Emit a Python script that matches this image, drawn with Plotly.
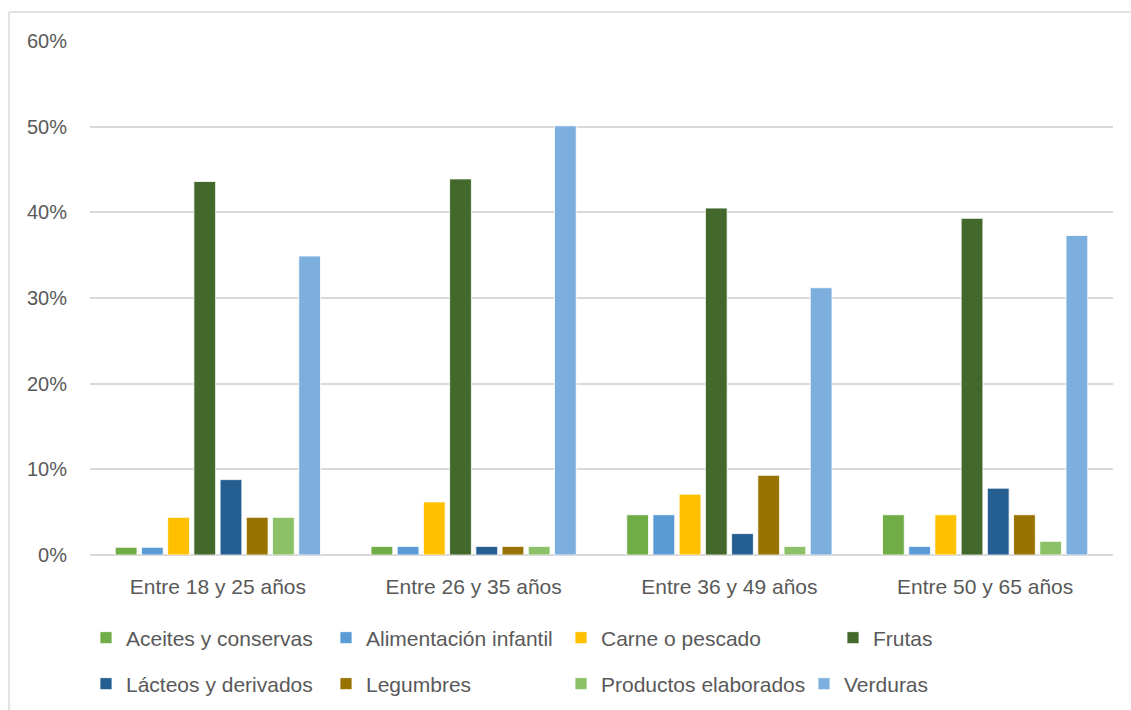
import plotly.graph_objects as go

# Age groups (x categories)
age_groups = ["Entre 18 y 25 años", "Entre 26 y 35 años", "Entre 36 y 49 años", "Entre 50 y 65 años"]

# Share of each product category per age group (fractions)
aceites = [0.009, 0.010, 0.047, 0.047]
alimentacion = [0.009, 0.010, 0.047, 0.010]
carne = [0.044, 0.062, 0.071, 0.047]
frutas = [0.436, 0.439, 0.405, 0.393]
lacteos = [0.088, 0.010, 0.025, 0.078]
legumbres = [0.044, 0.010, 0.093, 0.047]
elaborados = [0.044, 0.010, 0.010, 0.016]
verduras = [0.349, 0.501, 0.312, 0.373]

series_names = ["Aceites y conservas", "Alimentación infantil", "Carne o pescado", "Frutas",
                "Lácteos y derivados", "Legumbres", "Productos elaborados", "Verduras"]
series_values = [aceites, alimentacion, carne, frutas, lacteos, legumbres, elaborados, verduras]
series_colors = ["#70AD47", "#5B9BD5", "#FFC000", "#43682B",
                 "#255E91", "#997300", "#8CC168", "#7DAFDE"]

y_ticks = [0, 0.1, 0.2, 0.3, 0.4, 0.5, 0.6]

FONT = "Liberation Sans, Arial, sans-serif"
TEXT = "#595959"

# Plot-area geometry in pixels
W, H = 1131, 710
L, R, T, B = 90, 18, 41, 155
pw, ph = W - L - R, H - T - B

def px_x(x):
    return (x - L) / pw

def px_y(y):
    return (H - B - y) / ph

# Legend entry text start (px) and row centre (px)
legend_pos = [(127, 638), (367, 638), (602, 638), (874, 638),
              (127, 684), (367, 684), (602, 684), (845, 684)]
SYMBOL_TO_TEXT = 41

fig = go.Figure()
layout_legends = {}
for i, (name, vals, col) in enumerate(zip(series_names, series_values, series_colors)):
    key = "legend" if i == 0 else f"legend{i + 1}"
    fig.add_trace(go.Bar(
        name=name, x=age_groups, y=vals,
        marker=dict(color=col, line=dict(color="rgba(255,255,255,0.8)", width=1)),
        legend=key,
    ))
    tx, ty = legend_pos[i]
    layout_legends[key] = dict(
        x=px_x(tx - SYMBOL_TO_TEXT), y=px_y(ty), xanchor="left", yanchor="middle",
        orientation="h", bgcolor="rgba(0,0,0,0)",
        font=dict(family=FONT, size=21, color=TEXT),
        itemwidth=30, tracegroupgap=0,
    )

fig.update_layout(
    width=W, height=H,
    margin=dict(l=L, r=R, t=T, b=B, autoexpand=False),
    paper_bgcolor="white", plot_bgcolor="white",
    barmode="group", bargap=0.18, bargroupgap=0.17,
    showlegend=True,
    xaxis=dict(
        tickfont=dict(family=FONT, size=21, color=TEXT),
        showline=False, ticks="", showgrid=False,
        ticklabelstandoff=17,
    ),
    yaxis=dict(
        range=[0, 0.6], tickvals=y_ticks, tickformat=".0%",
        tickfont=dict(family=FONT, size=20, color=TEXT),
        showgrid=True, gridcolor="#D9D9D9", gridwidth=1.5,
        zeroline=True, zerolinecolor="#D9D9D9", zerolinewidth=1.5,
        ticks="", ticklabelstandoff=22,
    ),
    shapes=[
        dict(type="line", xref="paper", yref="paper",
             x0=px_x(9), x1=px_x(1200), y0=px_y(12), y1=px_y(12),
             line=dict(color="#D9D9D9", width=1.5)),
        dict(type="line", xref="paper", yref="paper",
             x0=px_x(9), x1=px_x(9), y0=px_y(12), y1=px_y(800),
             line=dict(color="#D9D9D9", width=1.5)),
    ],
    **layout_legends,
)

fig.write_html("out.html")
